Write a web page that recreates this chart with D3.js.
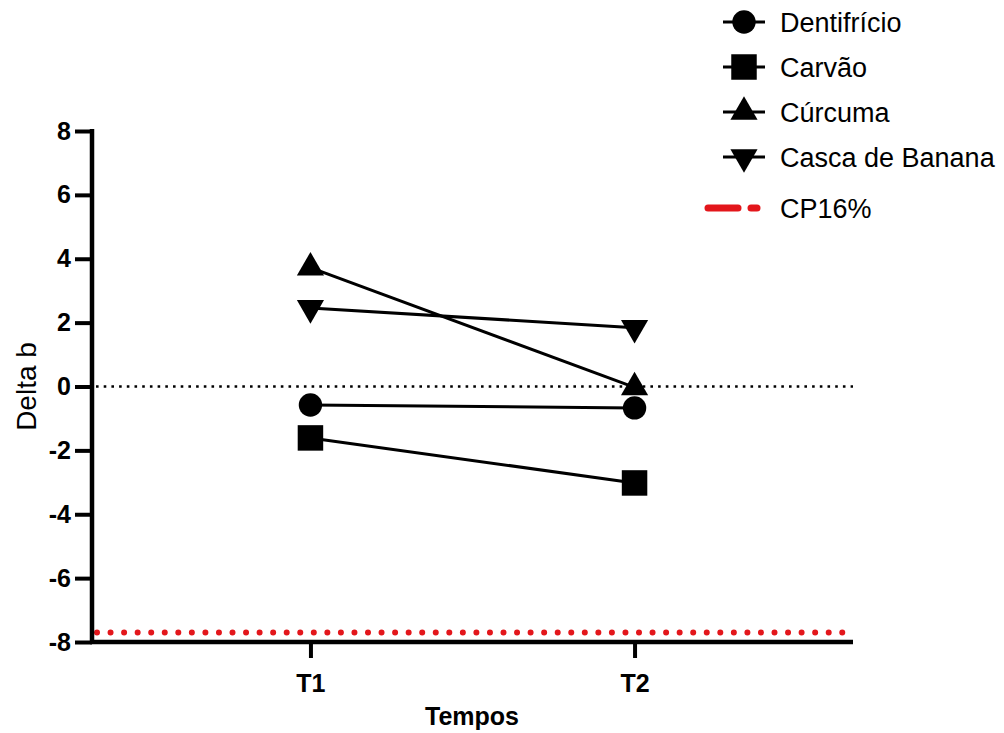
<!DOCTYPE html>
<html>
<head>
<meta charset="utf-8">
<script src="https://cdn.jsdelivr.net/npm/d3@7"></script>
<style>
  body { margin: 0; background: #fff; }
  svg { font-family: "Liberation Sans", Arial, sans-serif; }
</style>
</head>
<body>
<div class="chart"></div>
<script>
var tempos = ['T1', 'T2'];
var series = ['Dentifrício', 'Carvão', 'Cúrcuma', 'Casca de Banana'];
var dentifricio = [-0.58, -0.67];
var carvao = [-1.61, -3.02];
var curcuma = [3.72, -0.03];
var cascaBanana = [2.46, 1.84];
var cp16 = -7.7;
var yTicks = [-8, -6, -4, -2, 0, 2, 4, 6, 8];

var values = [dentifricio, carvao, curcuma, cascaBanana];
var shapes = ['circle', 'square', 'up', 'down'];

var width = 1004, height = 733;

var svg = d3.select('.chart').append('svg')
  .attr('width', width)
  .attr('height', height);

var x = d3.scalePoint()
  .domain(tempos)
  .range([92, 853])
  .padding(0.674);

var y = d3.scaleLinear()
  .domain([-8, 8])
  .range([642, 131]);

function symbolPath(shape) {
  if (shape == 'circle') return d3.symbol(d3.symbolCircle, 430)();
  if (shape == 'square') return d3.symbol(d3.symbolSquare, 650)();
  return d3.symbol(d3.symbolTriangle, 320)();
}

// zero line
svg.append('line')
  .attr('x1', 96).attr('x2', 853)
  .attr('y1', y(0)).attr('y2', y(0))
  .attr('stroke', '#000')
  .attr('stroke-width', 2.5)
  .attr('stroke-dasharray', '2.6,5.1');

// CP16% reference line
svg.append('line')
  .attr('x1', 97).attr('x2', 853)
  .attr('y1', y(cp16)).attr('y2', y(cp16))
  .attr('stroke', '#e3161b')
  .attr('stroke-width', 6)
  .attr('stroke-linecap', 'round')
  .attr('stroke-dasharray', '0,13.55');

// axes
var yAxis = svg.append('g')
  .attr('transform', 'translate(92,0)')
  .call(d3.axisLeft(y).tickValues(yTicks).tickSize(17).tickPadding(4)
    .tickFormat(function(d) { return String(d); }));

var xAxis = svg.append('g')
  .attr('transform', 'translate(0,' + y(-8) + ')')
  .call(d3.axisBottom(x).tickSize(16).tickPadding(10));

[yAxis, xAxis].forEach(function(a) {
  a.select('.domain').remove();
  a.selectAll('line').attr('stroke', '#000').attr('stroke-width', 4);
  a.selectAll('text')
    .attr('fill', '#000')
    .style('font-size', '25px')
    .style('font-weight', 'bold')
    .style('font-family', '"Liberation Sans", Arial, sans-serif');
});
xAxis.selectAll('text').attr('dy', '0.95em');

svg.append('line')
  .attr('x1', 92).attr('x2', 92)
  .attr('y1', y(8) - 2).attr('y2', y(-8) + 2)
  .attr('stroke', '#000').attr('stroke-width', 4.5);
svg.append('line')
  .attr('x1', 90).attr('x2', 853)
  .attr('y1', y(-8)).attr('y2', y(-8))
  .attr('stroke', '#000').attr('stroke-width', 4.5);

// axis titles
svg.append('text')
  .attr('transform', 'translate(36,' + y(0) + ') rotate(-90)')
  .attr('text-anchor', 'middle')
  .style('font-size', '28px')
  .text('Delta b');

svg.append('text')
  .attr('x', 472).attr('y', 725)
  .attr('text-anchor', 'middle')
  .style('font-size', '25px')
  .style('font-weight', 'bold')
  .text('Tempos');

// series lines and markers
var line = d3.line()
  .x(function(d, i) { return x(tempos[i]); })
  .y(function(d) { return y(d); });

values.forEach(function(vals, s) {
  svg.append('path')
    .attr('d', line(vals))
    .attr('fill', 'none')
    .attr('stroke', '#000')
    .attr('stroke-width', 3);
});

values.forEach(function(vals, s) {
  svg.selectAll('.m' + s)
    .data(vals)
    .enter()
    .append('path')
    .attr('class', 'm' + s)
    .attr('d', symbolPath(shapes[s]))
    .attr('transform', function(d, i) {
      return 'translate(' + x(tempos[i]) + ',' + y(d) + ')' + (shapes[s] == 'down' ? ' rotate(180)' : '');
    })
    .attr('fill', '#000');
});

// legend
var legendY = [22, 67, 112, 157];
var legend = svg.selectAll('.legend')
  .data(series)
  .enter()
  .append('g')
  .attr('class', 'legend')
  .attr('transform', function(d, i) { return 'translate(744,' + legendY[i] + ')'; });

legend.append('line')
  .attr('x1', -21).attr('x2', 21)
  .attr('stroke', '#000').attr('stroke-width', 3);

legend.append('path')
  .attr('d', function(d, i) { return symbolPath(shapes[i]); })
  .attr('transform', function(d, i) { return shapes[i] == 'down' ? 'rotate(180)' : ''; })
  .attr('fill', '#000');

legend.append('text')
  .attr('x', 36).attr('y', 10)
  .style('font-size', '27px')
  .text(function(d) { return d; });

var cpLegend = svg.append('g').attr('transform', 'translate(0,208)');
cpLegend.append('line')
  .attr('x1', 708).attr('x2', 738)
  .attr('stroke', '#e3161b').attr('stroke-width', 7).attr('stroke-linecap', 'round');
cpLegend.append('line')
  .attr('x1', 751).attr('x2', 757)
  .attr('stroke', '#e3161b').attr('stroke-width', 7).attr('stroke-linecap', 'round');
cpLegend.append('text')
  .attr('x', 780).attr('y', 10)
  .style('font-size', '27px')
  .text('CP16%');
</script>
</body>
</html>
